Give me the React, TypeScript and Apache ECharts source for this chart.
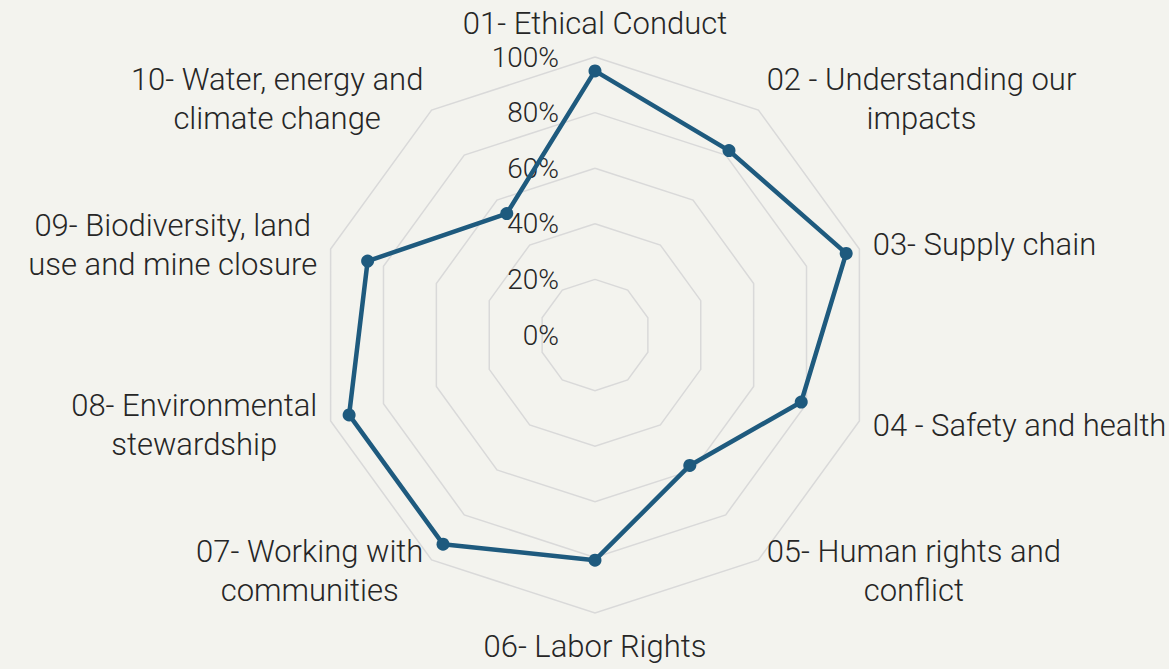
import React, { useEffect, useRef } from "react";
import * as echarts from "echarts";

const indicatorNames = [
  "01- Ethical Conduct",
  "02 - Understanding our\nimpacts",
  "03- Supply chain",
  "04 - Safety and health",
  "05- Human rights and\nconflict",
  "06- Labor Rights",
  "07- Working with\ncommunities",
  "08- Environmental\nstewardship",
  "09- Biodiversity, land\nuse and mine closure",
  "10- Water, energy and\nclimate change",
];
const scores = [95, 82, 95, 78, 58, 81, 93, 93, 86, 54];
const axisMin = 0;
const axisMax = 100;
const axisSplits = 5;

const FONT = "Roboto";
const TEXT_COLOR = "#262626";
const LINE_COLOR = "#1e5a7e";

// ECharts lays radar axes out counter-clockwise; reorder so that the
// categories run clockwise from the top, as in the reference.
const order = indicatorNames.map((_, i) => (i === 0 ? 0 : indicatorNames.length - i));

export default function App() {
  const ref = useRef<HTMLDivElement>(null);
  useEffect(() => {
    if (!ref.current) return;
    const chart = echarts.init(ref.current, null, { renderer: "svg" });
    chart.setOption({
      animation: false,
      backgroundColor: "#f3f3ee",
      radar: {
        center: [595, 335],
        radius: 278,
        startAngle: 90,
        shape: "polygon",
        splitNumber: axisSplits,
        nameGap: 14,
        axisName: {
          color: TEXT_COLOR,
          fontFamily: FONT,
          fontSize: 31,
          fontWeight: 300,
          lineHeight: 39,
          formatter: (name: string) =>
            name
              .split("\n")
              .map((l) => `{c|${l}}`)
              .join("\n"),
          rich: {
            c: {
              align: "center",
              color: TEXT_COLOR,
              fontFamily: FONT,
              fontSize: 31,
              fontWeight: 300,
              lineHeight: 39,
            },
          },
        },
        axisLine: { show: false },
        axisTick: { show: false },
        axisLabel: { show: false },
        splitArea: { show: false },
        splitLine: { lineStyle: { color: "#d9d9d9", width: 1.5 } },
        indicator: order.map((idx, i) =>
          i === 0
            ? {
                name: indicatorNames[idx],
                min: axisMin,
                max: axisMax,
                axisLabel: {
                  show: true,
                  margin: 36,
                  color: TEXT_COLOR,
                  fontFamily: FONT,
                  fontSize: 28,
                  fontWeight: 300,
                  formatter: "{value}%",
                },
              }
            : { name: indicatorNames[idx], min: axisMin, max: axisMax }
        ),
      },
      series: [
        {
          type: "radar",
          symbol: "circle",
          symbolSize: 13,
          lineStyle: { color: LINE_COLOR, width: 4.5 },
          itemStyle: { color: LINE_COLOR },
          data: [{ value: order.map((idx) => scores[idx]), name: "Score" }],
        },
      ],
    });
    return () => chart.dispose();
  }, []);
  return (
    <div
      ref={ref}
      style={{ position: "fixed", left: 0, top: 0, width: 1169, height: 669 }}
    />
  );
}
